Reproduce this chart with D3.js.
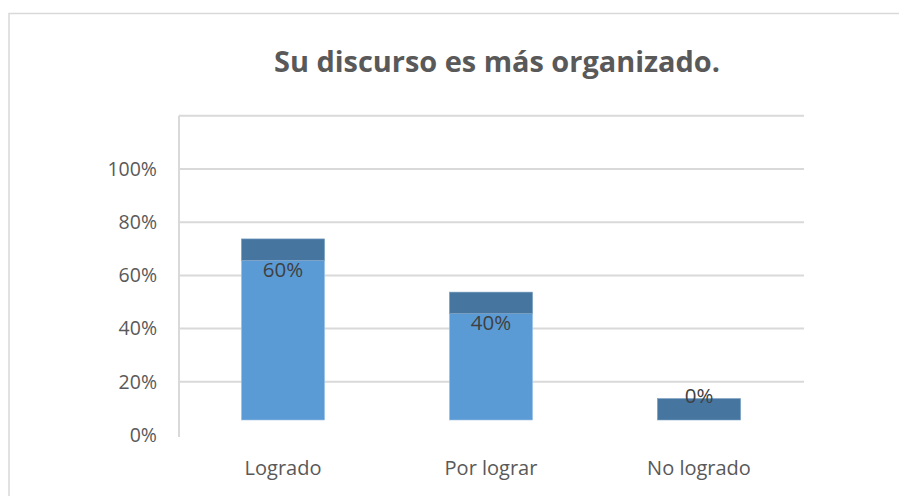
<!DOCTYPE html>
<html>
<head>
<meta charset="utf-8">
<script src="https://cdn.jsdelivr.net/npm/d3@7"></script>
<style>
  body { margin: 0; background: #fff; }
  svg { display: block; }
  text { font-family: "Open Sans", sans-serif; }
</style>
</head>
<body>
<div id="chart"></div>
<script>
// Data
var categories = ["Logrado", "Por lograr", "No logrado"];
var values = [0.6, 0.4, 0];
var tickValues = [0, 0.2, 0.4, 0.6, 0.8, 1.0];
var title = "Su discurso es más organizado.";

var width = 899, height = 496;

var svg = d3.select("#chart")
    .append("svg")
    .attr("width", width)
    .attr("height", height);

// outer frame of the chart area (runs past the window on right/bottom)
svg.append("rect")
    .attr("x", 9)
    .attr("y", 13.5)
    .attr("width", 1000)
    .attr("height", 1000)
    .attr("fill", "none")
    .attr("stroke", "#d9d9d9")
    .attr("stroke-width", 1.5);

// back wall scale and front-face scale (3D columns sit in front of the wall)
var wallLeft = 179, wallRight = 803;
var yWall = d3.scaleLinear().domain([0, 1]).range([435, 169]);
var yFront = d3.scaleLinear().domain([0, 1]).range([420, 154]);
var depth = 21.5;

var x = d3.scaleBand()
    .domain(categories)
    .range([wallLeft, wallRight])
    .paddingInner(0.6)
    .paddingOuter(0.3);

// gridlines (including the wall top at 120%)
var gridValues = tickValues.slice(1).concat([1.2]);
svg.append("g")
    .selectAll("line")
    .data(gridValues)
    .enter()
    .append("line")
    .attr("x1", wallLeft)
    .attr("x2", wallRight + 1)
    .attr("y1", function(d) { return yWall(d); })
    .attr("y2", function(d) { return yWall(d); })
    .attr("stroke", "#d9d9d9")
    .attr("stroke-width", 2);

// left wall edge
svg.append("line")
    .attr("x1", wallLeft)
    .attr("x2", wallLeft)
    .attr("y1", yWall(1.2))
    .attr("y2", yWall(0) + 2)
    .attr("stroke", "#d9d9d9")
    .attr("stroke-width", 2);

// y axis labels
var yAxis = d3.axisLeft(yWall)
    .tickValues(tickValues)
    .tickFormat(d3.format(".0%"))
    .tickSize(0)
    .tickPadding(0);

var gy = svg.append("g")
    .attr("transform", "translate(157,0)")
    .call(yAxis);
gy.select(".domain").remove();
gy.selectAll("text")
    .attr("fill", "#595959")
    .style("font-family", "'Open Sans', sans-serif")
    .style("font-size", "19.5px");

// columns: front face
var bars = svg.append("g").selectAll("g.bar")
    .data(categories)
    .enter()
    .append("g")
    .attr("class", "bar");

bars.append("rect")
    .attr("x", function(d) { return x(d); })
    .attr("width", x.bandwidth())
    .attr("y", function(d, i) { return yFront(values[i]); })
    .attr("height", function(d, i) { return yFront(0) - yFront(values[i]); })
    .attr("fill", "#5b9bd5")
    .attr("stroke", "#9dc3e6")
    .attr("stroke-width", 0.6);

// columns: top face
bars.append("rect")
    .attr("x", function(d) { return x(d); })
    .attr("width", x.bandwidth())
    .attr("y", function(d, i) { return yFront(values[i]) - depth; })
    .attr("height", depth)
    .attr("fill", "#4675a0")
    .attr("stroke", "#7ea3c6")
    .attr("stroke-width", 0.6);

// data labels
bars.append("text")
    .attr("x", function(d) { return x(d) + x.bandwidth() / 2; })
    .attr("y", function(d, i) {
        return values[i] > 0 ? yFront(values[i]) + 16.5 : yFront(values[i]) - depth + 4;
    })
    .attr("text-anchor", "middle")
    .attr("fill", "#404040")
    .style("font-size", "20.5px")
    .text(function(d, i) { return d3.format(".0%")(values[i]); });

// category labels
svg.append("g").selectAll("text")
    .data(categories)
    .enter()
    .append("text")
    .attr("x", function(d) { return x(d) + x.bandwidth() / 2; })
    .attr("y", 475)
    .attr("text-anchor", "middle")
    .attr("fill", "#595959")
    .style("font-size", "20px")
    .text(function(d) { return d; });

// title (Calibri-like narrow bold, so squeeze to the original width)
svg.append("text")
    .attr("x", 497)
    .attr("y", 72)
    .attr("text-anchor", "middle")
    .attr("fill", "#595959")
    .attr("textLength", 446)
    .attr("lengthAdjust", "spacingAndGlyphs")
    .style("font-size", "29px")
    .style("font-weight", "bold")
    .text(title);
</script>
</body>
</html>
